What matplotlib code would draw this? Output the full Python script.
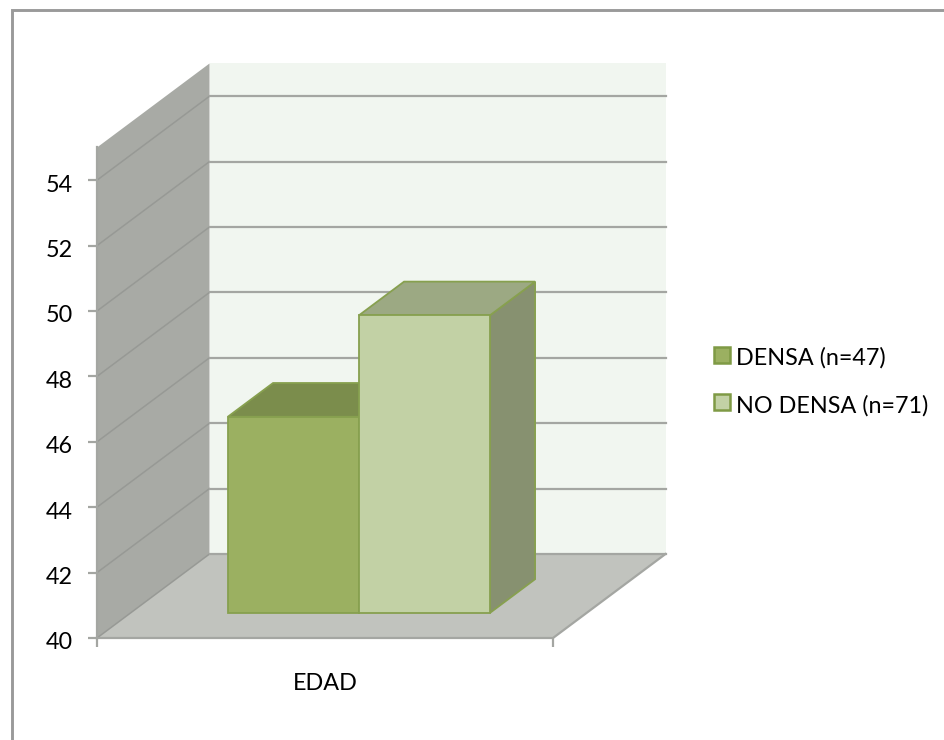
import matplotlib
matplotlib.use("Agg")
import matplotlib.pyplot as plt
from matplotlib.patches import Polygon, Rectangle
from matplotlib.transforms import ScaledTranslation

plt.rcParams['font.family'] = ['Lato', 'DejaVu Sans']

# Chart values
categories = ["EDAD"]
series_names = ["DENSA (n=47)", "NO DENSA (n=71)"]
series_values = [46.0, 49.1]
y_ticks = [40, 42, 44, 46, 48, 50, 52, 54]

W, H = 944, 740
AX_L, AX_R, AX_B = 97, 553, 638      # front plot box, pixels
PX_PER_UNIT = 32.7
Y_MIN, Y_MAX = 40, 55.0
DEPTH_X, DEPTH_Y = 112.5, 84         # pixel shift from front to back of the box

fig = plt.figure(figsize=(W / 100, H / 100), dpi=100, facecolor="white")
ax_h = (Y_MAX - Y_MIN) * PX_PER_UNIT
ax = fig.add_axes([AX_L / W, 1 - AX_B / H, (AX_R - AX_L) / W, ax_h / H])
ax.set_xlim(0, 1)
ax.set_ylim(Y_MIN, Y_MAX)
ax.patch.set_visible(False)


def proj(x, y, depth=0.0):
    """Oblique projection of (category position, value, depth 0-1) to axes data."""
    return (x + depth * DEPTH_X / (AX_R - AX_L), y + depth * DEPTH_Y / PX_PER_UNIT)


def face(points, fc, ec="none", lw=0.0, z=1):
    ax.add_patch(Polygon([proj(*p) for p in points], closed=True, facecolor=fc,
                         edgecolor=ec, linewidth=lw, zorder=z, clip_on=False,
                         joinstyle="miter"))


GRID = "#a4a6a2"
GRID_SIDE = "#979995"
# Box walls and floor
face([(0, Y_MIN, 1), (1, Y_MIN, 1), (1, Y_MAX, 1), (0, Y_MAX, 1)], "#f1f6f0", z=1)
face([(0, Y_MIN, 0), (0, Y_MIN, 1), (0, Y_MAX, 1), (0, Y_MAX, 0)], "#a8aaa5", z=1)
face([(0, Y_MIN, 0), (1, Y_MIN, 0), (1, Y_MIN, 1), (0, Y_MIN, 1)], "#c1c3be", z=1)

# Gridlines run along the side wall and across the back wall
for v in y_ticks:
    ax.plot(*zip(proj(0, v, 0), proj(0, v, 1)), color=GRID_SIDE, lw=1.1,
            zorder=2, clip_on=False)
    ax.plot(*zip(proj(0, v, 1), proj(1, v, 1)), color=GRID, lw=1.6,
            zorder=2, clip_on=False)
ax.plot(*zip(proj(0, Y_MIN, 0), proj(1, Y_MIN, 0), proj(1, Y_MIN, 1)),
        color=GRID, lw=1.6, zorder=2, clip_on=False)

# Bars stand inside the box, between these fractions of its depth
BAR_EDGE = "#87a04f"
front_colors = ["#9bb061", "#c2d1a5"]
top_colors = ["#7b8d4c", "#9ca983"]
side_colors = ["#7b8d4c", "#879170"]
BAR_LEFT = 0.2134
BAR_W = 0.2873
D0, D1 = 0.298, 0.70
for i, val in enumerate(series_values):
    x0 = BAR_LEFT + i * BAR_W
    x1 = x0 + BAR_W
    z = 3 + i
    face([(x1, Y_MIN, D0), (x1, Y_MIN, D1), (x1, val, D1), (x1, val, D0)],
         side_colors[i], BAR_EDGE, 1.3, z)
    face([(x0, val, D0), (x1, val, D0), (x1, val, D1), (x0, val, D1)],
         top_colors[i], BAR_EDGE, 1.3, z)
    face([(x0, Y_MIN, D0), (x1, Y_MIN, D0), (x1, val, D0), (x0, val, D0)],
         front_colors[i], BAR_EDGE, 1.3, z)

# Axes
for s in ("top", "right", "bottom"):
    ax.spines[s].set_visible(False)
ax.spines["left"].set_color(GRID)
ax.spines["left"].set_linewidth(1.6)
ax.set_yticks(y_ticks)
ax.set_yticklabels([str(t) for t in y_ticks], fontsize=16.8, color="black")
ax.tick_params(axis="y", direction="out", length=6.5, width=1.6, color=GRID, pad=11)
label_shift = ScaledTranslation(0, -3 / 100, fig.dpi_scale_trans)
for lab in ax.get_yticklabels():
    lab.set_transform(lab.get_transform() + label_shift)
ax.set_xticks([0, 1])
ax.set_xticklabels(["", ""])
ax.tick_params(axis="x", direction="out", length=6.5, width=1.6, color=GRID)
for pos, name in zip([0.5], categories):
    ax.annotate(name, xy=(pos, Y_MIN), xycoords="data", xytext=(0, -52),
                textcoords="offset pixels", ha="center", va="baseline",
                fontsize=16.8, color="black", annotation_clip=False)

# Legend, placed in figure pixels
for i, (name, fc) in enumerate(zip(series_names, front_colors)):
    cy = 354.5 + i * 47.5
    fig.add_artist(Rectangle((714 / W, 1 - (cy + 8) / H), 16 / W, 16 / H,
                             transform=fig.transFigure, facecolor=fc,
                             edgecolor="#7f9a45", linewidth=1.8))
    fig.text(736.5 / W, 1 - (cy + 10.5) / H, name, fontsize=16.8, color="black",
             ha="left", va="baseline")

# Outer chart frame
FRAME = "#9a9a9a"
fig.add_artist(plt.Line2D([11.5 / W, 11.5 / W, 1], [0, 1 - 9.5 / H, 1 - 9.5 / H],
                          transform=fig.transFigure, color=FRAME, lw=2.1,
                          solid_joinstyle="miter"))

fig.savefig("out.png", dpi=100, facecolor="white")
